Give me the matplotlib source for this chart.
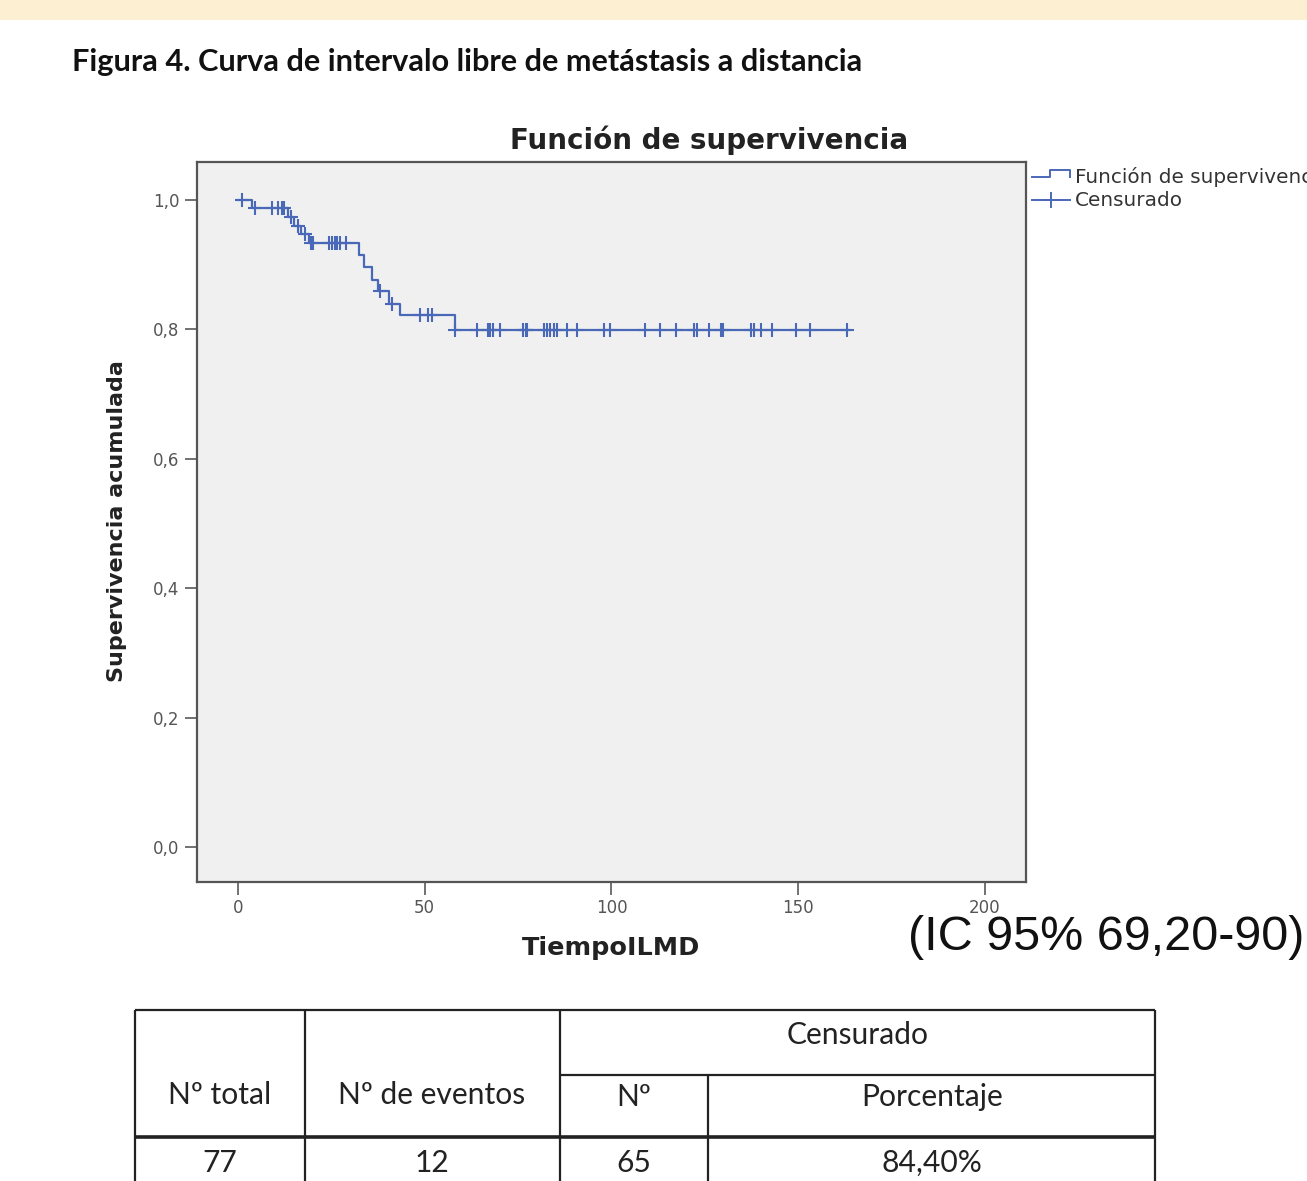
import numpy as np
import matplotlib
matplotlib.use('Agg')
import matplotlib.pyplot as plt
from matplotlib.lines import Line2D
from matplotlib.patches import Rectangle
from matplotlib.ticker import FuncFormatter

W, H = 1307, 1181

# Kaplan-Meier steps (time, survival after the drop)
step_times = [0, 3.7, 13.3, 15.0, 16.8, 19.0, 32.3, 33.8, 35.8, 37.6, 40.5, 43.4, 58.0]
step_surv = [1.0, 0.987, 0.974, 0.960, 0.947, 0.933, 0.915, 0.897, 0.876, 0.860, 0.840, 0.822, 0.799]
t_end = 163.5

# censored observations
censor_times = [1.0, 4.5, 9.0, 10.8, 11.7, 12.3, 14.2, 16.0, 18.0, 19.5,
                20.2, 24.3, 25.2, 26.0, 26.6, 27.4, 28.8, 37.9, 41.2,
                48.8, 51.0, 51.9,
                58.2, 64.0, 67.0, 67.6, 68.2, 70.2, 76.4, 77.0, 77.5, 82.0, 82.8,
                83.6, 84.5, 85.4, 88.1, 90.9, 98.0, 99.7, 109.1, 113.0, 117.2,
                122.1, 123.0, 126.1, 129.3, 129.8, 137.3, 138.2, 140.0, 143.1,
                149.3, 153.2, 163.2]

x_ticks = [0, 50, 100, 150, 200]
y_ticks = [0.0, 0.2, 0.4, 0.6, 0.8, 1.0]

table_header = ["Nº total", "Nº de eventos", "Nº", "Porcentaje"]
table_group = "Censurado"
table_row = ["77", "12", "65", "84,40%"]

BLUE = '#4a68b8'
SPSS_FONT = ['DejaVu Sans']


def fx(x):
    return x / W


def fy(y):
    return 1 - y / H


def fit(t, width_px, renderer):
    bb = t.get_window_extent(renderer)
    t.set_fontsize(t.get_fontsize() * width_px / bb.width)


def hline(fig, x0, x1, y, lw=1.6):
    fig.add_artist(Line2D([fx(x0), fx(x1)], [fy(y), fy(y)], transform=fig.transFigure,
                          color='#222222', lw=lw, solid_capstyle='butt'))


def vline(fig, x, y0, y1, lw=1.6):
    fig.add_artist(Line2D([fx(x), fx(x)], [fy(y0), fy(y1)], transform=fig.transFigure,
                          color='#222222', lw=lw, solid_capstyle='butt'))


def main():
    fig = plt.figure(figsize=(W / 100, H / 100), dpi=100)
    renderer = fig.canvas.get_renderer()

    fig.add_artist(Rectangle((0, fy(20)), 1, 20 / H, transform=fig.transFigure,
                             color='#fdf0d2', lw=0))

    title = fig.text(fx(72), fy(62), "Figura 4. Curva de intervalo libre de metástasis a distancia",
                     ha='left', va='center', fontsize=20, fontweight='bold',
                     family=['Lato', 'DejaVu Sans'], color='#111111')
    fit(title, 793, renderer)

    ax = fig.add_axes([fx(197), fy(882), (1026 - 197) / W, (882 - 162) / H])
    ax.set_facecolor('#f0f0f0')
    for s in ax.spines.values():
        s.set_color('#555555')
        s.set_linewidth(1.6)

    # survival step curve
    xs = list(step_times) + [t_end]
    ys = list(step_surv) + [step_surv[-1]]
    ax.step(xs, ys, where='post', color=BLUE, lw=1.6)

    idx = np.searchsorted(step_times, censor_times, side='right') - 1
    c_surv = np.array(step_surv)[idx]
    ax.plot(censor_times, c_surv, ls='none', marker='+', ms=10, mew=1.5, color=BLUE)

    ax.set_xlim(-10.98, 211.0)
    ax.set_ylim(-0.054, 1.0587)
    ax.set_xticks(x_ticks)
    ax.set_yticks(y_ticks)
    ax.yaxis.set_major_formatter(FuncFormatter(lambda v, p: ('%.1f' % v).replace('.', ',')))
    ax.tick_params(axis='both', direction='out', length=9, width=1.3, color='#666666',
                   labelsize=12, labelcolor='#555555')
    ax.tick_params(axis='x', pad=3)
    for lab in ax.get_xticklabels() + ax.get_yticklabels():
        lab.set_family(SPSS_FONT)

    ct = fig.text(fx(709), fy(140), "Función de supervivencia", ha='center', va='center',
                  fontsize=18, fontweight='bold', family=SPSS_FONT, color='#222222')
    fit(ct, 398, renderer)
    xl = fig.text(fx(611), fy(948), "TiempoILMD", ha='center', va='center',
                  fontsize=16, fontweight='bold', family=SPSS_FONT, color='#222222')
    fit(xl, 178, renderer)
    yl = fig.text(fx(117), fy(521), "Supervivencia acumulada", ha='center', va='center',
                  rotation=90, fontsize=16, fontweight='bold', family=SPSS_FONT,
                  color='#222222')
    bb = yl.get_window_extent(renderer)
    yl.set_fontsize(yl.get_fontsize() * 323 / bb.height)

    # legend outside the plot
    fig.add_artist(Line2D([fx(1032), fx(1050), fx(1050), fx(1070), fx(1070)],
                          [fy(177), fy(177), fy(170), fy(170), fy(177)],
                          transform=fig.transFigure, color=BLUE, lw=1.4))
    fig.add_artist(Line2D([fx(1032), fx(1070)], [fy(200), fy(200)],
                          transform=fig.transFigure, color=BLUE, lw=1.4))
    fig.add_artist(Line2D([fx(1051)], [fy(200)], transform=fig.transFigure, color=BLUE,
                          marker='+', ms=11, mew=1.4, ls='none'))
    lg2 = fig.text(fx(1075), fy(200), "Censurado", ha='left', va='center',
                   fontsize=12, family=SPSS_FONT, color='#333333')
    fit(lg2, 107, renderer)
    fig.text(fx(1075), fy(177), "Función de supervivencia", ha='left', va='center',
             fontsize=lg2.get_fontsize(), family=SPSS_FONT, color='#333333')

    ic = fig.text(fx(1106), fy(938), "(IC 95% 69,20-90)", ha='center', va='center',
                  fontsize=30, family=['Liberation Sans', 'DejaVu Sans'], color='#111111')
    fit(ic, 397, renderer)

    # summary table
    hline(fig, 135, 1155, 1010)
    hline(fig, 560, 1155, 1075)
    hline(fig, 135, 1155, 1137, lw=2.6)
    for x in [135, 305, 560, 1155]:
        vline(fig, x, 1010, 1181)
    vline(fig, 708, 1075, 1181)

    tkw = dict(ha='center', va='center', family=['Lato', 'DejaVu Sans'], color='#222222')
    probe = fig.text(0.5, 0.5, table_header[3], fontsize=18, **tkw)
    fit(probe, 141, renderer)
    fs = probe.get_fontsize()
    probe.remove()
    fig.text(fx(858), fy(1035), table_group, fontsize=fs, **tkw)
    col_x = [220, 432, 634, 932]
    col_y = [1095, 1095, 1097, 1097]
    for x, y, h in zip(col_x, col_y, table_header):
        fig.text(fx(x), fy(y), h, fontsize=fs, **tkw)
    for x, v in zip(col_x, table_row):
        fig.text(fx(x), fy(1163), v, fontsize=fs, **tkw)

    fig.savefig('out.png', dpi=100, facecolor='white')


if __name__ == '__main__':
    main()
